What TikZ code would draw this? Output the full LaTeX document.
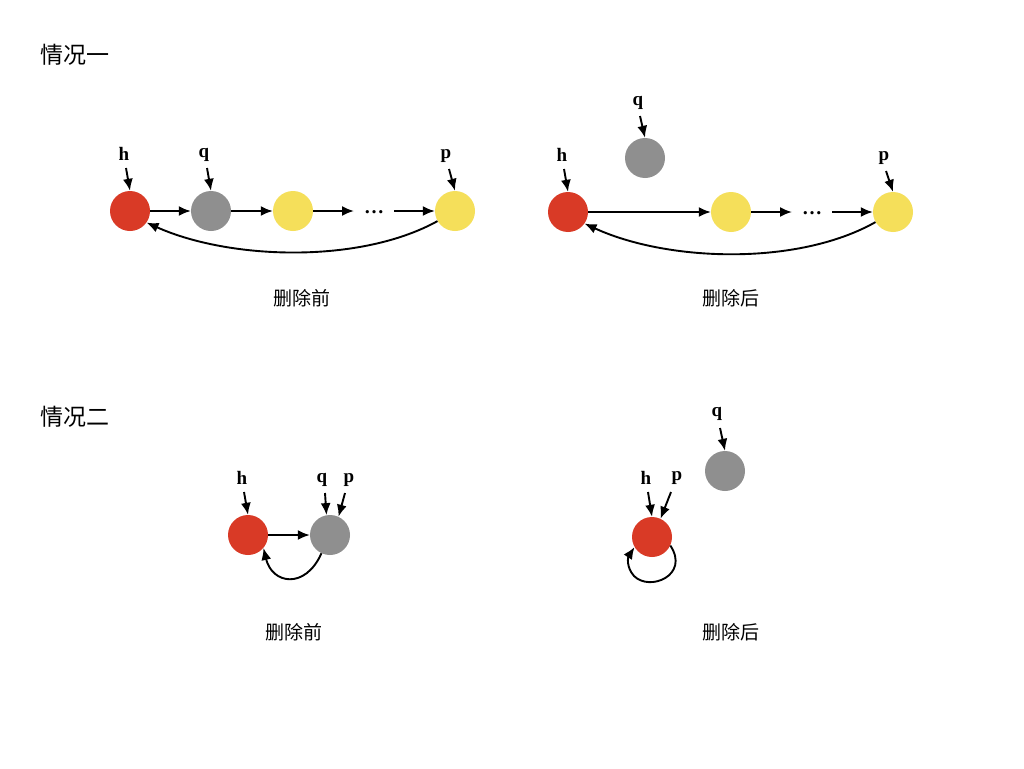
\documentclass[tikz,border=0pt]{standalone}
\usepackage{fontspec}
\setmainfont{Liberation Serif}
\newfontfamily\cjk{Noto Sans CJK SC}
\usetikzlibrary{arrows.meta}
\definecolor{nred}{HTML}{D93A26}
\definecolor{ngray}{HTML}{8F8F8F}
\definecolor{nyel}{HTML}{F5DF5A}
\begin{document}
\begin{tikzpicture}[x=1pt,y=-1pt,
  nd/.style={circle,minimum size=40pt,inner sep=0pt},
  rednd/.style={nd,fill=nred},
  graynd/.style={nd,fill=ngray},
  yelnd/.style={nd,fill=nyel},
  lab/.style={font=\bfseries\fontsize{19}{19}\selectfont,inner sep=0pt},
  captxt/.style={font=\cjk\fontsize{19}{19}\selectfont,inner sep=0pt},
  ttl/.style={font=\cjk\fontsize{23}{23}\selectfont,inner sep=0pt},
  arr/.style={line width=1.9pt,-{Latex[length=12pt,width=10pt]}},
  dotsn/.style={font=\bfseries\fontsize{20}{20}\selectfont,inner sep=0pt}]
\useasboundingbox (0,0) rectangle (1024,768);
\fill[white] (0,0) rectangle (1024,768);
% titles
\node[ttl] (t1) at (75,55) {情况一};
\node[ttl] (t2) at (75,417) {情况二};
% ---- case 1 before
\node[rednd] (a1) at (130,211) {};
\node[graynd] (a2) at (211,211) {};
\node[yelnd] (a3) at (293,211) {};
\node[dotsn] (ad) at (374,212) {…};
\node[yelnd] (a4) at (455,211) {};
\coordinate (ad1) at (354,211);
\coordinate (ad2) at (394,211);
\draw[arr] (a1) -- (a2);
\draw[arr] (a2) -- (a3);
\draw[arr] (a3) -- (ad1);
\draw[arr] (ad2) -- (a4);
\draw[arr] (a4.210) .. controls (360,264) and (230,260) .. (a1.-35);
\node[lab] (ah) at (124,154) {h};
\node[lab] (aq) at (204,155) {q};
\node[lab] (ap) at (446,156) {p};
\draw[arr] (126,168) -- (a1.north);
\draw[arr] (207,168) -- (a2.north);
\draw[arr] (449,169) -- (a4.north);
\node[captxt] (c1) at (302,298) {删除前};
% ---- case 1 after
\node[rednd] (b1) at (568,212) {};
\node[graynd] (bq) at (645,158) {};
\node[yelnd] (b3) at (731,212) {};
\node[dotsn] (bd) at (812,213) {…};
\node[yelnd] (b4) at (893,212) {};
\coordinate (bd1) at (792,212);
\coordinate (bd2) at (832,212);
\draw[arr] (b1) -- (b3);
\draw[arr] (b3) -- (bd1);
\draw[arr] (bd2) -- (b4);
\draw[arr] (b4.210) .. controls (798,266) and (668,262) .. (b1.-35);
\node[lab] (bh) at (562,155) {h};
\node[lab] (bql) at (638,103) {q};
\node[lab] (bp) at (884,158) {p};
\draw[arr] (564,169) -- (b1.north);
\draw[arr] (640,116) -- (bq.north);
\draw[arr] (886,171) -- (b4.north);
\node[captxt] (c2) at (731,298) {删除后};
% ---- case 2 before
\node[rednd] (d1) at (248,535) {};
\node[graynd] (d2) at (330,535) {};
\draw[arr] (d1) -- (d2);
\draw[arr] (d2.245) .. controls (305,590) and (272,584) .. (d1.-40);
\node[lab] (dh) at (242,478) {h};
\node[lab] (dq) at (322,480) {q};
\node[lab] (dp) at (349,480) {p};
\draw[arr] (244,492) -- (d1.north);
\draw[arr] (325,493) -- (d2.100);
\draw[arr] (345,493) -- (d2.65);
\node[captxt] (c3) at (294,632) {删除前};
% ---- case 2 after
\node[graynd] (eq) at (725,471) {};
\node[rednd] (e1) at (652,537) {};
\node[lab] (eql) at (717,414) {q};
\node[lab] (eh) at (646,478) {h};
\node[lab] (ep) at (677,478) {p};
\draw[arr] (720,428) -- (eq.north);
\draw[arr] (648,492) -- (e1.north);
\draw[arr] (671,492) -- (e1.65);
\draw[arr] (e1.-25) .. controls (690,575) and (650,592) .. (634,576) .. controls (626,567) and (628,557) .. (e1.210);
\node[captxt] (c4) at (731,632) {删除后};
\end{tikzpicture}
\end{document}
